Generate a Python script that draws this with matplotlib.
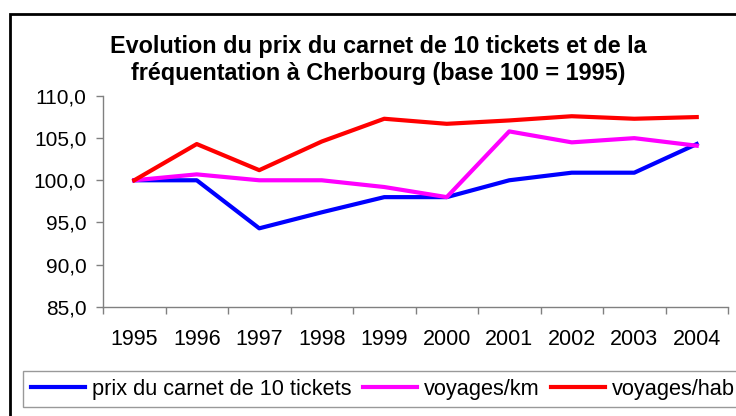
import matplotlib

matplotlib.use("Agg")
import matplotlib.pyplot as plt
from matplotlib.patches import Rectangle
from matplotlib.ticker import FuncFormatter

years = ["1995", "1996", "1997", "1998", "1999", "2000", "2001", "2002", "2003", "2004"]
prix_carnet = [100.0, 100.0, 94.3, 96.2, 98.0, 98.0, 100.0, 100.9, 100.9, 104.3]
voyages_km = [100.0, 100.7, 100.0, 100.0, 99.2, 98.0, 105.8, 104.5, 105.0, 104.1]
voyages_hab = [100.0, 104.3, 101.2, 104.6, 107.3, 106.7, 107.1, 107.6, 107.3, 107.5]

series = [
    ("prix du carnet de 10 tickets", prix_carnet, "#0000FF"),
    ("voyages/km", voyages_km, "#FF00FF"),
    ("voyages/hab", voyages_hab, "#FF0000"),
]

plt.rcParams["font.family"] = ["Liberation Sans", "DejaVu Sans"]

W, H = 736, 416
fig = plt.figure(figsize=(W / 100, H / 100), dpi=100)

# outer chart border (cut off on the right and bottom, as in the screenshot)
fig.patches.append(Rectangle((10 / W, -0.1), 1.2, 1 - 14 / H + 0.1, transform=fig.transFigure,
                             fill=False, ec="black", lw=2))

ax = fig.add_axes([103 / W, 1 - 306.7 / H, 625 / W, 210.7 / H])
x = list(range(len(years)))
handles = []
for label, vals, color in series:
    (h,) = ax.plot(x, vals, color=color, lw=3, label=label)
    handles.append(h)

ax.set_xlim(-0.5, len(years) - 0.5)
ax.set_ylim(85, 110)
ax.set_yticks([85, 90, 95, 100, 105, 110])
ax.yaxis.set_major_formatter(FuncFormatter(lambda v, _: f"{v:.1f}".replace(".", ",")))
ax.set_xticks(x)
ax.set_xticklabels(years)
ax.set_xticks([i - 0.5 for i in range(len(years) + 1)], minor=True)
ax.tick_params(axis="x", which="major", length=0, pad=16, labelsize=15.5)
ax.tick_params(axis="x", which="minor", length=5, color="#808080", width=1)
ax.tick_params(axis="y", length=5, color="#808080", width=1, labelsize=15, pad=7)

for side in ("top", "right"):
    ax.spines[side].set_visible(False)
for side in ("left", "bottom"):
    ax.spines[side].set_color("#808080")
    ax.spines[side].set_linewidth(1)

fig.text(378 / W, 1 - 53 / H, "Evolution du prix du carnet de 10 tickets et de la",
         ha="center", va="baseline", fontsize=16.8, fontweight="bold")
fig.text(378 / W, 1 - 80 / H, "fréquentation à Cherbourg (base 100 = 1995)",
         ha="center", va="baseline", fontsize=16.8, fontweight="bold")

leg = fig.legend(handles=handles, loc="upper left", bbox_to_anchor=(23 / W, 1 - 371 / H),
                 ncol=3, frameon=True, fancybox=False, fontsize=15.7,
                 handlelength=2.5, handletextpad=0.32, columnspacing=0.5,
                 borderpad=0.35, borderaxespad=0, edgecolor="#808080")
leg.get_frame().set_linewidth(1.0)

fig.savefig("out.png", dpi=100)
